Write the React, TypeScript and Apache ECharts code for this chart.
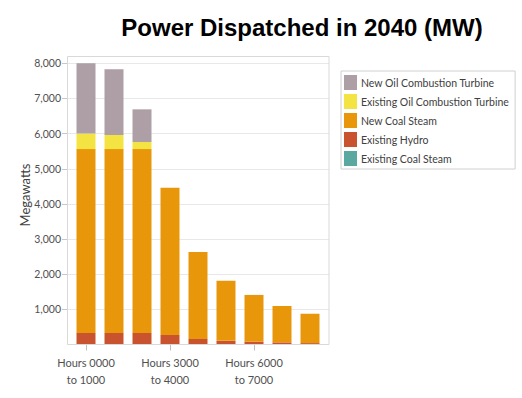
import React, { useEffect, useRef } from "react";
import * as echarts from "echarts";

const categories = [
  "Hours 0000\nto 1000",
  "Hours 1000\nto 2000",
  "Hours 2000\nto 3000",
  "Hours 3000\nto 4000",
  "Hours 4000\nto 5000",
  "Hours 5000\nto 6000",
  "Hours 6000\nto 7000",
  "Hours 7000\nto 8000",
  "Hours 8000\nto 8760",
];

const existingCoalSteam = [0, 0, 0, 0, 0, 0, 0, 0, 0];
const existingHydro = [330, 330, 330, 270, 160, 105, 80, 60, 40];
const newCoalSteam = [5230, 5230, 5230, 4190, 2470, 1710, 1330, 1035, 835];
const existingOilCT = [440, 400, 200, 0, 0, 0, 0, 0, 0];
const newOilCT = [2030, 1870, 930, 0, 0, 0, 0, 0, 0];

const yTicks = [1000, 2000, 3000, 4000, 5000, 6000, 7000, 8000];

const FONT = "Lato, 'Open Sans', sans-serif";

export default function App() {
  const ref = useRef<HTMLDivElement>(null);
  useEffect(() => {
    if (!ref.current) return;
    const chart = echarts.init(ref.current, null, { renderer: "svg" });
    const top = 63.3;
    const bottom = 398 - 344.5;
    const seriesDefs = [
      { name: "Existing Coal Steam", data: existingCoalSteam, color: "#5ba8a0" },
      { name: "Existing Hydro", data: existingHydro, color: "#c9532e" },
      { name: "New Coal Steam", data: newCoalSteam, color: "#e8970b" },
      { name: "Existing Oil Combustion Turbine", data: existingOilCT, color: "#f4e443" },
      { name: "New Oil Combustion Turbine", data: newOilCT, color: "#ad9fa5" },
    ];
    chart.setOption({
      animation: false,
      backgroundColor: "#ffffff",
      graphic: [
        {
          type: "text",
          x: 302,
          y: 27,
          style: {
            text: "Power Dispatched in 2040 (MW)",
            font: "bold 24px 'Liberation Sans', Arial, sans-serif",
            fill: "#000000",
            textAlign: "center",
            textVerticalAlign: "middle",
          },
        },
        {
          type: "text",
          x: 25,
          y: 195,
          rotation: Math.PI / 2,
          style: {
            text: "Megawatts",
            font: `13px ${FONT}`,
            fill: "#404040",
            textAlign: "center",
            textVerticalAlign: "middle",
          },
        },
        {
          type: "rect",
          shape: { x: 67.5, y: 56.5, width: 261.5, height: 288 },
          style: { fill: "none", stroke: "#d9d9d9", lineWidth: 1 },
          silent: true,
          z: 10,
        },
      ],
      legend: {
        orient: "vertical",
        left: 341,
        top: 71,
        data: [
          "New Oil Combustion Turbine",
          "Existing Oil Combustion Turbine",
          "New Coal Steam",
          "Existing Hydro",
          "Existing Coal Steam",
        ],
        icon: "rect",
        itemWidth: 13,
        itemHeight: 15,
        itemGap: 4,
        padding: [4, 6, 3, 3],
        borderColor: "#d0d0d0",
        borderWidth: 1,
        textStyle: { fontFamily: FONT, fontSize: 10.5, color: "#404040", padding: [0, 0, 0, -1] },
      },
      grid: [
        { left: 72, right: 198, top, bottom, containLabel: false },
        { left: 67, right: 193, top, bottom, containLabel: false },
      ],
      xAxis: [
        {
          type: "category",
          gridIndex: 0,
          data: categories,
          axisLine: { show: true, lineStyle: { color: "#d9d9d9" } },
          axisTick: {
            show: true,
            alignWithLabel: true,
            interval: 2,
            length: 6,
            lineStyle: { color: "#bdbdbd" },
          },
          axisLabel: {
            interval: 2,
            margin: 9,
            color: "#505050",
            fontFamily: FONT,
            fontSize: 11,
            lineHeight: 17.5,
          },
        },
        {
          type: "value",
          gridIndex: 1,
          show: false,
          min: 0,
          max: 1,
        },
      ],
      yAxis: [
        {
          type: "value",
          gridIndex: 0,
          min: 0,
          max: 8000,
          interval: 1000,
          show: false,
          splitLine: { show: false },
        },
        {
          type: "value",
          gridIndex: 1,
          min: 0,
          max: 8000,
          interval: 1000,
          axisLine: { show: false },
          axisTick: {
            show: true,
            length: 5,
            lineStyle: { color: "#c8c8c8" },
            customValues: yTicks,
          },
          splitLine: { show: true, lineStyle: { color: "#e8e8e8" } },
          axisLabel: {
            margin: 6,
            color: "#505050",
            fontFamily: FONT,
            fontSize: 10.5,
            formatter: (v: number) => (v === 0 ? "" : v.toLocaleString("en-US")),
          },
        },
      ],
      series: seriesDefs.map((s) => ({
        name: s.name,
        type: "bar",
        stack: "total",
        xAxisIndex: 0,
        yAxisIndex: 0,
        barWidth: 19,
        data: s.data,
        itemStyle: { color: s.color },
      })),
    });
    return () => chart.dispose();
  }, []);
  return <div ref={ref} style={{ width: 522, height: 398, position: "absolute", left: 0, top: 0 }} />;
}
